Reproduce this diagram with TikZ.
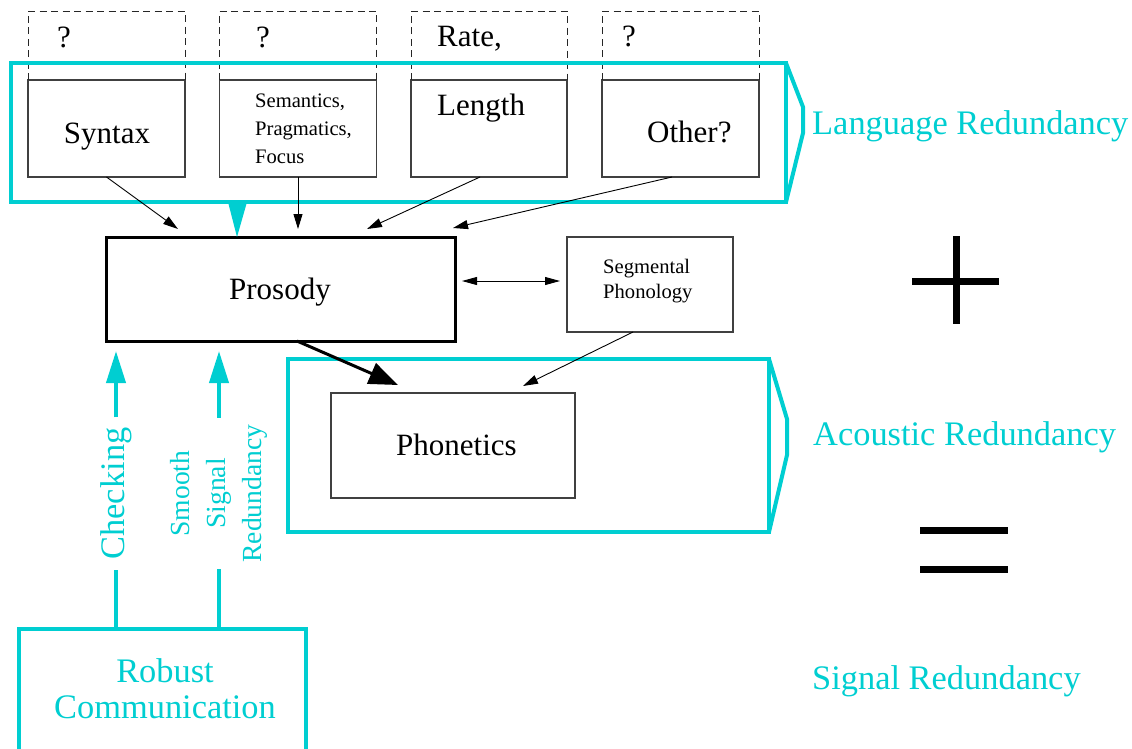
\documentclass[tikz,border=0pt]{standalone}
\usepackage{fontspec}
\setmainfont{Liberation Serif}
\usetikzlibrary{arrows.meta,calc}
\definecolor{cy}{RGB}{0,206,209}
\begin{document}
\begin{tikzpicture}[x=1pt,y=-1pt,
  box/.style={draw=black!75, line width=1.1, inner sep=0, outer sep=0},
  hat/.style={draw=black!85, line width=1, dash pattern=on 7 off 4.5},
  cybox/.style={draw=cy, line width=4, inner sep=0, outer sep=0},
  cyl/.style={draw=cy, line width=4},
  cyarr/.style={draw=cy, line width=4, -{Triangle[length=32,width=19]}},
  arr/.style={draw=black, line width=0.9, -{Triangle[length=15,width=9]}},
  dblarr/.style={draw=black, line width=0.9, {Triangle[length=15,width=8]}-{Triangle[length=15,width=8]}},
  bigarr/.style={draw=black, line width=3, -{Triangle[length=29,width=22]}},
  sign/.style={draw=black, line width=7},
  big/.style={font=\fontsize{31}{36}\selectfont, inner sep=0},
  small/.style={font=\fontsize{20.6}{28}\selectfont, inner sep=0, align=left},
  cytext/.style={text=cy, font=\fontsize{34.4}{36}\selectfont, inner sep=0},
]
\clip (0,0) rectangle (1132,748);

% top row of source boxes with dashed upper parts
\node[box, minimum width=157, minimum height=97] (syn) at (106.5,128.5) {};
\node[box, minimum width=157, minimum height=97] (sem) at (298,128.5) {};
\node[box, minimum width=156, minimum height=97] (len) at (489,128.5) {};
\node[box, minimum width=157, minimum height=97] (oth) at (680.5,128.5) {};
\foreach \b in {syn,sem,len,oth}
  \draw[hat] (\b.north west) -- ++(0,-69) -| (\b.north east);

\node[big, anchor=base west] (q1) at (57,47) {?};
\node[big, anchor=base west] (q2) at (256,47) {?};
\node[big, anchor=base west] (rate) at (437,46) {Rate,};
\node[big, anchor=base west] (q4) at (622,46) {?};

\node[big, anchor=base] (syntxt) at (107,143) {Syntax};
\node[small, anchor=base west] (semtxt1) at (255,107) {Semantics,};
\node[small, anchor=base west] (semtxt2) at (255,135) {Pragmatics,};
\node[small, anchor=base west] (semtxt3) at (255,163) {Focus};
\node[big, anchor=base west] (lentxt) at (437,115) {Length};
\node[big, anchor=base west] (othtxt) at (647,142) {Other?};

% central boxes
\node[draw=black, line width=3, inner sep=0, outer sep=0, minimum width=349, minimum height=104] (pro) at (280.5,289) {};
\node[big, anchor=base] (protxt) at (280,299) {Prosody};
\node[box, minimum width=166, minimum height=95] (seg) at (650,284.5) {};
\node[small, anchor=base west] (segtxt1) at (603,273) {Segmental};
\node[small, anchor=base west] (segtxt2) at (603,298) {Phonology};
\node[box, minimum width=244, minimum height=105] (phn) at (453,445.5) {};
\node[big, anchor=base] (phntxt) at (456.5,455) {Phonetics};

% language redundancy bracket
\node[cybox, minimum width=775, minimum height=139] (lang) at (398.5,132.5) {};
\draw[cyl] (lang.north east) -- ++(17,44) -- ++(0,26) -- (lang.south east);
\fill[cy] ($(lang.south west)+(217,0)$) -- ++(19,0) -- ($(pro.north west)+(131,0)$) -- cycle;
\node[cytext, anchor=base west] (langtxt) at (812,134) {Language Redundancy};

% acoustic redundancy bracket
\node[cybox, minimum width=481, minimum height=173] (ac) at (528.5,445.5) {};
\draw[cyl] (ac.north east) -- ++(18,60) -- ++(0,36) -- (ac.south east);
\node[cytext, anchor=base west] (actxt) at (813,445) {Acoustic Redundancy};

\node[cytext, anchor=base west] (sigtxt) at (812,689) {Signal Redundancy};

% connectors into prosody
\draw[arr] (syn.south) -- ($(pro.north west)+(72,-8)$);
\draw[arr] (sem.south) -- ($(pro.north west)+(192,-8)$);
\draw[arr] ($(len.south)+(-9,0)$) -- ($(pro.north west)+(261,-8)$);
\draw[arr] ($(oth.south)+(-8.5,0)$) -- ($(pro.north west)+(347,-9)$);
\draw[dblarr] ($(pro.east)+(7,-8)$) -- ($(seg.west)+(-7,-3.5)$);
\draw[bigarr] ($(pro.south)+(16.5,0)$) -- ($(phn.north)+(-55,-8)$);
\draw[arr] ($(seg.south)+(-17,0)$) -- ($(phn.north)+(70,-7)$);

% plus and equals
\draw[sign] (912,281) -- (999,281);
\draw[sign] (956,236) -- (956,324);
\draw[sign] (920,530) -- (1008,530);
\draw[sign] (920,569) -- (1008,569);

% robust communication and its feedback paths
\node[cybox, minimum width=287, minimum height=171] (rob) at (162.5,714.5) {};
\node[text=cy, font=\fontsize{34.4}{36}\selectfont, align=center, inner sep=0, anchor=base] (robtxt) at (165,718) {Robust\\Communication};

\node[text=cy, font=\fontsize{34.4}{36}\selectfont, rotate=90, inner xsep=10, inner ysep=0] (chk) at (116,493.5) {Checking};
\node[text=cy, font=\fontsize{27.6}{36}\selectfont, rotate=90, align=center, inner xsep=6.5, inner ysep=0] (ssr) at (219,493.5) {Smooth\\Signal\\Redundancy};

\draw[cyl] (rob.north -| chk.center) -- (chk.west);
\draw[cyarr] (chk.east) -- ($(chk.east |- pro.south)+(0,10)$);
\draw[cyl] (rob.north -| ssr.center) -- (ssr.west);
\draw[cyarr] (ssr.east) -- ($(ssr.east |- pro.south)+(0,10)$);
\end{tikzpicture}
\end{document}
